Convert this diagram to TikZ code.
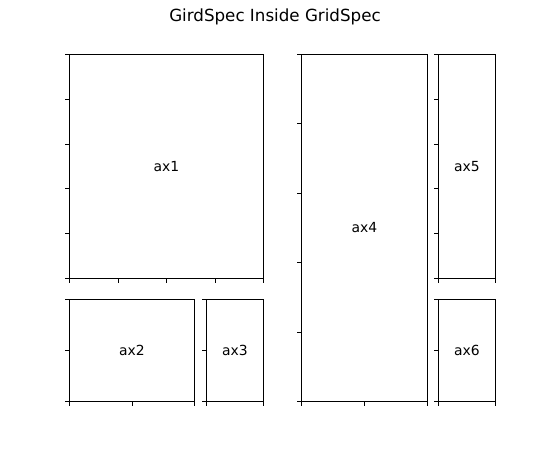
\documentclass[tikz,border=0pt]{standalone}
\usepackage{fontspec}
\setmainfont{DejaVu Sans}
\usetikzlibrary{calc}
\tikzset{
  axbox/.style={draw=black, line width=1pt, rectangle, inner sep=0pt, outer sep=0pt, font=\fontsize{13.9}{16}\selectfont},
  tick/.style={line width=1pt, line cap=butt},
}
\newcommand{\yticks}[2]{\foreach \f in {#2} \draw[tick] ($(#1.south west)!\f!(#1.north west)$) -- ++(-4.5,0);}
\newcommand{\xticks}[2]{\foreach \f in {#2} \draw[tick] ($(#1.south west)!\f!(#1.south east)$) -- ++(0,4.5);}
\begin{document}
\begin{tikzpicture}[x=1pt,y=-1pt]
\useasboundingbox (0,0) rectangle (550,450);
\node[font=\fontsize{16.7}{20}\selectfont] (title) at (275,17) {GirdSpec Inside GridSpec};
\node[axbox, minimum width=194pt, minimum height=224pt] (ax1) at (166.5,166.5) {ax1};
\node[axbox, minimum width=125pt, minimum height=102pt] (ax2) at (132,350.5) {ax2};
\node[axbox, minimum width=57pt, minimum height=102pt] (ax3) at (235,350.5) {ax3};
\node[axbox, minimum width=126pt, minimum height=347pt] (ax4) at (364.5,228) {ax4};
\node[axbox, minimum width=57pt, minimum height=224pt] (ax5) at (467,166.5) {ax5};
\node[axbox, minimum width=57pt, minimum height=102pt] (ax6) at (467,350.5) {ax6};
\yticks{ax1}{0,0.2,0.4,0.6,0.8,1}
\xticks{ax1}{0,0.25,0.5,0.75,1}
\yticks{ax2}{0,0.5,1}
\xticks{ax2}{0,0.5,1}
\yticks{ax3}{0,0.5,1}
\xticks{ax3}{0,1}
\yticks{ax4}{0,0.2,0.4,0.6,0.8,1}
\xticks{ax4}{0,0.5,1}
\yticks{ax5}{0,0.2,0.4,0.6,0.8,1}
\xticks{ax5}{0,1}
\yticks{ax6}{0,0.5,1}
\xticks{ax6}{0,1}
\end{tikzpicture}
\end{document}
